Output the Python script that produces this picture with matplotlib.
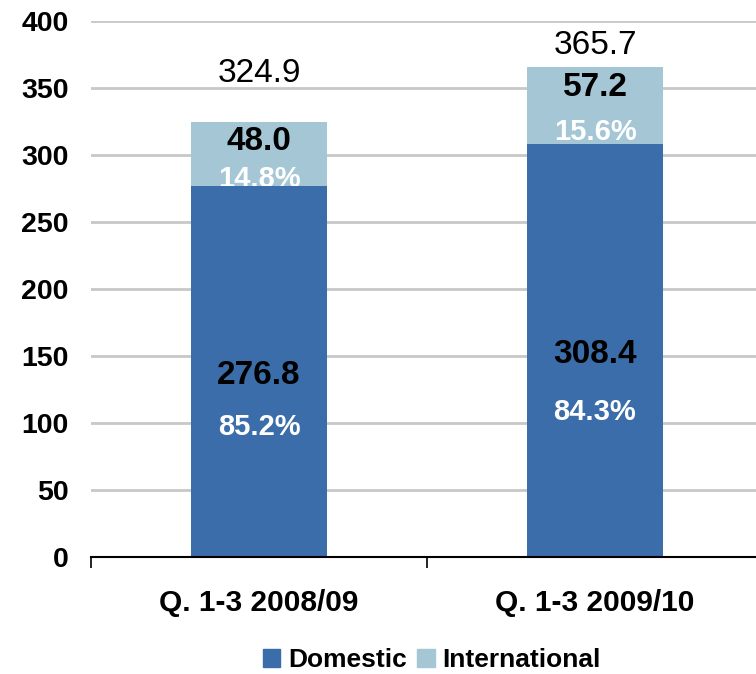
import matplotlib.pyplot as plt
from matplotlib.patches import Patch

plt.rcParams['font.family'] = ['Liberation Sans', 'DejaVu Sans']

# Passenger numbers (millions)
periods = ['Q. 1-3 2008/09', 'Q. 1-3 2009/10']
domestic = [276.8, 308.4]
international = [48.0, 57.2]
totals = [324.9, 365.7]
dom_share = ['85.2%', '84.3%']
int_share = ['14.8%', '15.6%']
yticks = [0, 50, 100, 150, 200, 250, 300, 350, 400]

# label placement tweaks (data units)
total_lift = [36, 16]
int_pct_lift = [5, 9]

c_dom = '#3A6DA9'
c_int = '#A5C7D5'

fig = plt.figure(figsize=(7.56, 6.74), dpi=100)
ax = fig.add_axes([91 / 756, 117 / 674, 672 / 756, 536 / 674])

x = list(range(len(periods)))
w = 0.405
ax.bar(x, international, w, bottom=domestic, color=c_int, zorder=2)
ax.bar(x, domestic, w, color=c_dom, zorder=4)

for i in x:
    d, n, t = domestic[i], international[i], totals[i]
    ax.text(i, d * 0.49, f'{d:.1f}', ha='center', va='center',
            fontsize=24, fontweight='bold', color='black', zorder=5)
    ax.text(i, d * 0.35, dom_share[i], ha='center', va='center',
            fontsize=21, fontweight='bold', color='white', zorder=5)
    ax.text(i, t - 15, f'{n:.1f}', ha='center', va='center',
            fontsize=24, fontweight='bold', color='black', zorder=5)
    # share text sits under the domestic segment
    ax.text(i, d + int_pct_lift[i], int_share[i], ha='center', va='center',
            fontsize=21, fontweight='bold', color='white', zorder=3)
    ax.text(i, t + total_lift[i], f'{t:.1f}', ha='center', va='center',
            fontsize=24, color='black', zorder=5)

ax.set_xlim(-0.5, 1.5)
ax.set_ylim(0, 400)
ax.set_yticks(yticks)
ax.set_yticklabels([str(v) for v in yticks], fontsize=20.5, fontweight='bold')
ax.tick_params(axis='y', length=0, pad=16)
ax.yaxis.grid(True, color='#C8C8C8', linewidth=2, zorder=0)
ax.set_axisbelow(True)

ax.set_xticks([-0.5, 0.5, 1.5])
ax.set_xticklabels([])
ax.tick_params(axis='x', which='major', length=8, width=1.2, color='black')
ax.set_xticks(x, minor=True)
ax.set_xticklabels(periods, minor=True, fontsize=21.5, fontweight='bold')
ax.tick_params(axis='x', which='minor', length=0, pad=23)

for s in ['top', 'right', 'left']:
    ax.spines[s].set_visible(False)
ax.spines['bottom'].set_linewidth(1.5)
ax.spines['bottom'].set_zorder(6)

handles = [Patch(color=c_dom, label='Domestic'),
           Patch(color=c_int, label='International')]
fig.legend(handles=handles, loc='center', bbox_to_anchor=(432 / 756, 1 - 660 / 674),
           ncol=2, frameon=False, prop={'size': 19, 'weight': 'bold'},
           handlelength=0.65, handleheight=0.65, handletextpad=0.3,
           columnspacing=0.4)

fig.savefig('out.png', dpi=100)
